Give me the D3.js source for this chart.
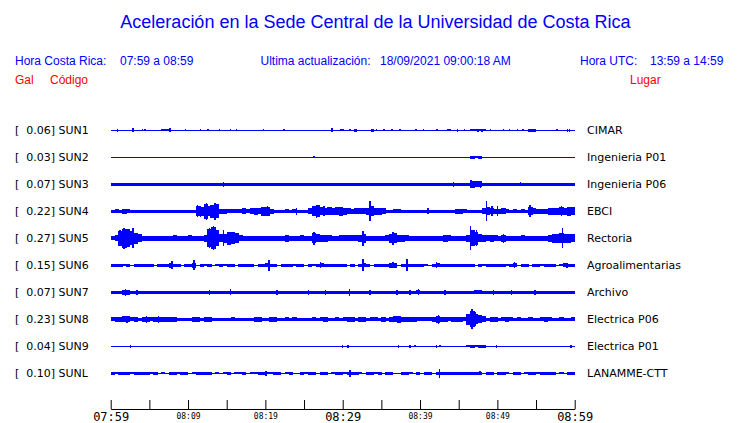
<!DOCTYPE html>
<html><head><meta charset="utf-8">
<script src="https://cdn.jsdelivr.net/npm/d3@7"></script>
<style>
html,body{margin:0;padding:0;background:#fff;}
svg{display:block;}
</style></head>
<body>
<svg id="chart" width="740" height="423"></svg>
<script>
// ---------------- DATA ----------------
const titleText = "Aceleración en la Sede Central de la Universidad de Costa Rica";
const localRange = "07:59 a 08:59";
const utcRange = "13:59 a 14:59";
const updated = "18/09/2021 09:00:18 AM";
const stations = ["SUN1","SUN2","SUN3","SUN4","SUN5","SUN6","SUN7","SUN8","SUN9","SUNL"];
const places = ["CIMAR","Ingenieria P01","Ingenieria P06","EBCI","Rectoria","Agroalimentarias","Archivo","Electrica P06","Electrica P01","LANAMME-CTT"];
const peakGal = ["0.06","0.03","0.07","0.22","0.27","0.15","0.07","0.23","0.04","0.10"];
const tickMinutes = [0,5,10,15,20,25,30,35,40,45,50,55,60];
const tickLabels = ["07:59","","08:09","","08:19","","08:29","","08:39","","08:49","","08:59"];
const majorLabels = ["07:59","08:29","08:59"];

// envelope half-amplitude per 30-second bin (120 bins = 60 minutes)
const envSUN1 = [
.65,.65,.65,.65,.65,.65,.65,.65,.65,.65, .65,.65,.65,1,1,.65,.65,.65,.65,.65,
.65,.65,.65,.65,.65,.65,.65,.65,.65,.65, .65,.65,.65,.65,.65,.65,.65,.65,.65,.65,
.65,.65,.65,.65,.65,.65,.65,.65,.65,.65, .65,.65,.65,.65,.65,.65,.65,.65,.65,.65,
.65,.65,.65,.65,.65,.65,.65,.65,.65,.65, .65,.65,.65,.65,.65,.65,.65,.65,.65,.65,
.65,.65,.65,.65,.65,.65,.65,1,.65,.65, .65,.65,.65,1,1,1,1,.65,.65,.65,
.65,.65,.65,.65,.65,.65,.65,.65,1.2,1.2, .65,.65,.65,.65,.65,.65,.65,.65,.65,.65];
const envSUN2 = [
.6,.6,.6,.6,.6,.6,.6,.6,.6,.6, .6,.6,.6,.6,.6,.6,.6,.6,.6,.6,
.6,.6,.6,.6,.6,.6,.6,.6,.6,.6, .6,.6,.6,.6,.6,.6,.6,.6,.6,.6,
.6,.6,.6,.6,.6,.6,.6,.6,.6,.6, .6,.6,.6,.6,.6,.6,.6,.6,.6,.6,
.6,.6,.6,.6,.6,.6,.6,.6,.6,.6, .6,.6,.6,.6,.6,.6,.6,.6,.6,.6,
.6,.6,.6,.6,.6,.6,.6,.6,.6,.6, .6,.6,.6,1.3,1.0,1.2,.6,.6,.6,.6,
.6,.6,.6,.6,.6,.6,.6,.6,.6,.6, .6,.6,.6,.6,.6,.6,.6,.6,.6,.6];
const envSUN3 = [
1.6,1.6,1.6,1.6,1.6,1.6,1.6,1.6,1.6,1.6, 1.6,1.6,1.6,1.6,1.6,1.6,1.6,1.6,1.6,1.6,
1.6,1.6,1.6,1.6,1.6,1.6,1.6,1.6,1.6,1.6, 1.6,1.6,1.6,1.6,1.6,1.6,1.6,1.6,1.6,1.6,
1.6,1.6,1.6,1.6,1.6,1.6,1.6,1.6,1.6,1.6, 1.6,1.6,1.6,1.6,1.6,1.6,1.6,1.6,1.6,1.6,
1.6,1.6,1.6,1.6,1.6,1.6,1.6,1.6,1.6,1.6, 1.6,1.6,1.6,1.6,1.6,1.6,1.6,1.6,1.6,1.6,
1.6,1.6,1.6,1.6,1.6,1.6,1.6,1.6,1.6,1.6, 1.6,1.6,1.6,3.3,3.0,3.0,1.6,1.6,1.6,1.6,
1.6,1.6,1.6,1.6,1.6,1.6,1.6,1.6,1.6,1.6, 1.6,1.6,1.6,1.6,1.6,1.6,1.6,1.6,1.6,1.6];
const envSUN4 = [
1.3,2.0,1.7,2.3,2.0,1.7,1.3,1.3,1.7,1.3, 1.8,1.8,1.3,1.7,1.3,1.3,1.6,1.3,1.5,1.3,
1.3,1.3,5,4.5,7.5,5,6.5,7,2.2,2.2, 2,2,2,2,3,2,3,3.5,3,4.5,
4.5,2.5,1.3,1.3,1.3,2,1.3,2,1.3,1.3, 1.5,3,5,6,4,3.5,4,3.5,4,4.5,
3.3,3,2.7,3,3,3,3.3,5,3.5,3.5, 3,1.7,1.5,2,2,1.5,1.5,1.5,1.5,1.5,
1.5,1.5,1.5,1.5,1.5,1.5,1.5,1.5,1.5,2.5, 2.5,2,1.5,1.5,1.5,1.5,3,4,3,2.7,
2.5,3,2,1.5,2,1.8,2,1.8,4,3, 2.5,2.5,2.5,3.5,3.5,3.5,4,3.5,4.5,4];
const envSUN5 = [
2,3,7.5,9.5,9,7,5.5,4,2.5,2.2, 2.5,2.7,2.5,2.3,2.5,2.7,3,2.5,2.3,2.3,
3,2.5,2.3,2.5,3.5,9,11,8,4,4.5, 6.5,6,5,3,2.5,2.5,2.7,2.5,2.5,2.3,
2.5,2.5,2.3,2.5,2.3,3.5,2.3,2.3,2.5,3, 2.3,2.3,5,4,3.5,3.5,3,2.7,2.7,3,
3,3,3,3,3.3,4.5,2.7,2.7,2.7,2.7, 2.7,3,4.5,5,3.5,3.3,3,2.5,2.5,2.5,
2.5,2.5,2.5,2.5,2.5,2.7,3.5,3,2.5,2.5, 2.5,2.5,3.5,8,6.5,4,3.5,3,3.3,3,
2.7,3.5,2.7,2.5,2.5,2.5,3,2.7,2.5,2.5, 2.5,2.5,2.7,3.5,4.5,4.5,5,4.5,4.5,4];
const envSUN6 = [
1.7,1.5,1.5,1.0,1.7,.7,1.7,1.7,1.7,1.5, 1.7,.7,1.7,1.7,1.7,2.5,1.7,1.7,.7,1.7,
1.7,2.5,.7,1.7,1.0,1.7,.7,1.0,1.7,1.0, 1.7,1.7,.7,1.7,1.7,1.7,1.7,.7,1.5,1.7,
2,1.7,1.7,.7,1.7,1.7,1.7,1.0,1.7,1.7, .7,1.7,1.0,1.7,2,1.5,1.7,1.7,1.7,1.7,
1.7,.7,1.7,.7,1.7,2.0,1.7,.7,1.7,1.7, 1.7,1.5,2.2,2.5,.7,1.7,1.5,1.7,1.7,1.7,
1.7,1.0,.7,1.7,2.0,1.7,1.7,1.5,1.7,1.7, 1.7,1.7,1.7,1.5,.7,1.7,1.0,1.7,1.7,1.7,
1.7,1.7,1.0,1.7,2.0,.7,1.7,1.7,.7,1.7, 1.7,1.0,1.7,1.7,1.7,.7,1.0,2.0,1.7,1.7];
const envSUN7 = [
1.3,1.3,1.3,2.5,2.2,1.3,1.3,1.5,1.3,1.3, 1.3,1.3,1.3,1.3,1.3,1.3,1.3,1.3,1.3,1.3,
1.3,1.3,1.3,1.3,1.3,1.3,1.3,1.3,1.3,1.3, 1.3,1.3,1.3,1.3,1.3,1.3,1.3,1.3,1.3,1.3,
1.3,1.3,1.3,1.3,1.3,1.3,1.3,1.3,1.3,1.3, 1.3,1.7,1.7,1.3,1.3,1.6,1.6,1.6,1.6,1.3,
1.3,1.3,1.3,1.3,1.3,1.3,1.3,1.3,1.3,1.3, 1.3,1.3,1.3,1.3,1.3,1.3,1.3,1.3,1.8,2.0,
1.3,1.3,1.3,1.3,1.3,1.3,1.3,1.3,1.3,1.3, 1.3,1.3,1.3,1.3,2.0,2.0,1.3,1.3,1.3,1.3,
1.3,1.3,1.3,1.3,1.3,1.3,1.6,1.6,1.6,1.3, 1.3,1.3,1.3,1.3,1.3,1.3,1.3,1.3,1.3,1.3];
const envSUN8 = [
2.0,2.7,2.7,3,3,2,2.2,1.7,2.2,2.7, 2.0,2.5,2.5,2.2,2.2,2.5,2.5,1.7,1.7,1.7,
1.7,2.5,2.5,1.7,2.5,2.5,1.7,1.7,1.7,1.7, 1.7,2.0,1.7,1.7,1.7,1.7,1.7,2.7,2.7,1.7,
1.7,2.2,2.2,1.7,1.7,2.0,1.7,2.0,1.7,1.7, 1.7,1.7,2.0,1.7,2.0,2.2,1.7,1.7,2.0,1.7,
2.0,2.3,2.3,1.7,2.2,2.3,1.7,2.0,2.0,1.7, 2.3,1.7,2.5,3,3.3,2.7,2.3,2.7,2.5,2.0,
2.0,2.0,2.0,2.2,3.5,2.7,2.2,2.0,2.3,2.7, 2.3,2.0,5.5,8,5,4,3,1.7,2.2,2.2,
1.7,2.0,2.2,2.0,1.7,2.0,1.7,1.7,2.0,1.7, 1.7,2.0,2.2,2.0,1.7,1.7,2.0,1.7,1.7,2.0];
const envSUN9 = [
.7,.7,.7,.7,.7,.7,.7,.7,.7,.7, .7,.7,.7,.7,.7,.7,.7,.7,.7,.7,
.7,.7,.7,.7,.7,.7,.7,.7,.7,.7, .7,.7,.7,.7,.7,.7,.7,.7,.7,.7,
.7,.7,.7,.7,.7,.7,.7,.7,.7,.7, .7,.7,.7,.7,.7,.7,.7,.7,.7,.7,
.7,.7,.7,.7,.7,.7,.7,.7,.7,.7, .7,.7,.7,.7,.7,.7,.7,.7,.7,.7,
.7,.7,.7,.7,.7,.7,.7,.7,.7,.7, .7,.7,1.0,1.3,1.0,1.3,1.2,.7,.7,.7,
.7,.7,.7,.7,.7,.7,.7,.7,.7,.7, .7,.7,.7,.7,.7,.7,.7,.7,.7,.7];
const envSUNL = [
1.2,1.0,1.3,1.2,1.3,1.0,1.3,1.5,1.7,1.3, 1.0,1.3,.8,1.0,.8,1.3,1.3,1.0,1.5,1.5,
.8,1.0,1.3,1.3,1.3,1.3,.8,1.0,.8,1.0, 1.3,.8,1.0,1.0,1.7,.8,1.0,1.0,1.7,1.7,
1.0,1.0,1.3,1.3,.8,1.0,1.3,.8,.8,1.3, 1.0,1.3,1.3,.8,1.2,1.3,.8,1.0,1.3,1.3,
1.0,1.5,1.7,1.3,1.0,.8,1.3,1.3,1.0,1.3, .8,1.3,1.3,.8,.8,1.3,1.2,1.0,.8,1.2,
.8,1.3,1.3,.8,1.3,1.7,1.3,1.3,1.3,1.3, 1.3,1.3,1.3,1.3,1.3,1.5,.8,1.3,1.3,.8,
1.3,1.3,1.0,.8,1.3,1.3,.8,1.0,1.3,1.3, 1.0,1.3,1.3,1.3,1.3,.8,1.0,.8,1.3,1.3];

// isolated spikes: [minute after 07:59, half-amplitude]
const spkSUN1 = [[0.9,1.7],[2.9,2],[4.1,1],[4.45,1],[7.7,2],[9.7,1],[11.6,1],[12.6,1],[14.05,.9],[15.5,.9],[16.25,1],[19.75,.9],[22.4,1],[28.6,2],[29.8,1],[30.05,1],[30.95,1],[31.6,1.7],[31.75,1.7],[33.7,1.7],[33.9,1.7],[34.4,1],[35.35,1],[36.35,1],[37.4,.9],[39.45,1],[40.45,.9],[42.2,1],[44.85,1.7],[45.75,1],[47.5,1.7],[48.0,1.7],[49.1,1],[50.8,.9],[51.55,.9],[52.6,1],[53.3,.9],[57.7,.9],[59.05,1.3],[59.3,1.3]];
const spkSUN2 = [[26.3,.9]];
const spkSUN3 = [[14.6,2.2],[44.3,2.2],[46.6,4],[47.8,3.7],[53,2]];
const spkSUN4 = [[11.2,6],[11.6,5.5],[12.4,8.5],[12.9,6.5],[13.5,8.3],[19.5,4.5],[20.3,5],[24,3.5],[26.6,6.7],[27.6,5],[33.5,10],[41.0,3],[48.6,10],[49.3,5],[50.0,5],[54.2,6],[58.3,5]];
const spkSUN5 = [[1.2,8],[1.7,10.5],[2.9,10],[12.8,10],[13.3,12],[14.6,8],[26.3,6.7],[32.6,7.5],[36.5,6.5],[46.55,12],[47.3,8],[50.8,4.5],[58.45,10]];
const spkSUN6 = [[7.9,4],[10.8,5],[20.5,5.5],[27.1,3],[32.6,6],[36.5,3],[38.3,6],[42.1,3],[52.2,3],[59,2.5]];
const spkSUN7 = [[1.9,3.5],[3.4,2.5],[12.75,2.5],[15.5,3],[21.5,2.5],[25.55,2.5],[27.8,2.5],[30.85,3.3],[33.5,2.2],[37,2.2],[38.7,2.5],[39.8,3],[43.2,2.2],[49.5,2.3],[51.85,2.3],[54.85,2.2]];
const spkSUN8 = [[2.1,3.7],[4.65,3.3],[6.15,3.3],[37.2,3.7],[42.4,4.3],[46.7,10],[47.2,7]];
const spkSUN9 = [[2.55,1.5],[29.95,1.2],[30.7,1.3],[37.2,1.3],[38.7,1.3],[39.35,1.1],[42.15,1.3],[42.6,1.1],[49.9,1.3],[59.5,1.3]];
const spkSUNL = [[20.1,2.5],[30.95,3.3],[42.5,4.5],[47.75,2]];

// ---------------- CHART ----------------
const envelopes = [envSUN1,envSUN2,envSUN3,envSUN4,envSUN5,envSUN6,envSUN7,envSUN8,envSUN9,envSUNL];
const spikes = [spkSUN1,spkSUN2,spkSUN3,spkSUN4,spkSUN5,spkSUN6,spkSUN7,spkSUN8,spkSUN9,spkSUNL];

const svg = d3.select("#chart");
const blue = "#0000ff", red = "#ff0000";
const sans = "'Liberation Sans', Arial, sans-serif";
const dv = "'DejaVu Sans', sans-serif";
const mono = "'DejaVu Sans Mono', monospace";

const x = d3.scaleLinear().domain([0, 60]).range([110.7, 574.7]);
const row = d3.scalePoint().domain(stations).range([130.3, 373.3]);
const amp = d3.scaleLinear().domain([0, 1]).range([0, 1]);

// header
svg.append("text").attr("x", 375.5).attr("y", 28).attr("text-anchor", "middle")
  .attr("font-family", sans).attr("font-size", 18).attr("fill", blue).text(titleText);
const hdr = [
  [15, "Hora Costa Rica:", blue], [120, localRange, blue],
  [260.5, "Ultima actualización:", blue], [380, updated, blue],
  [580, "Hora UTC:", blue], [650, utcRange, blue]
];
hdr.forEach(d => svg.append("text").attr("x", d[0]).attr("y", 65)
  .attr("font-family", sans).attr("font-size", 12).attr("fill", d[2]).text(d[1]));
[[15, "Gal"], [50, "Código"], [630, "Lugar"]].forEach(d =>
  svg.append("text").attr("x", d[0]).attr("y", 84)
   .attr("font-family", sans).attr("font-size", 12).attr("fill", red).text(d[1]));

// rows
const rows = svg.append("g").selectAll("g").data(stations).join("g");
rows.append("text").attr("x", 15).attr("y", s => row(s) + 4)
  .attr("font-family", dv).attr("font-size", 11).attr("fill", "#000").text("[");
rows.append("text").attr("x", 55).attr("y", s => row(s) + 4).attr("text-anchor", "end")
  .attr("font-family", dv).attr("font-size", 11).attr("fill", "#000").text((s,i) => peakGal[i] + "]");
rows.append("text").attr("x", 58.5).attr("y", s => row(s) + 4)
  .attr("font-family", dv).attr("font-size", 11).attr("fill", "#000").text(s => s);
rows.append("text").attr("x", 587).attr("y", s => row(s) + 4)
  .attr("font-family", dv).attr("font-size", 11).attr("fill", "#000").text((s,i) => places[i]);

// waveforms
const binMin = 0.5;
rows.each(function(s, i) {
  const g = d3.select(this).append("g").attr("fill", blue).attr("shape-rendering", "crispEdges");
  const cy = row(s);
  g.selectAll("rect.env").data(envelopes[i]).join("rect").attr("class", "env")
    .attr("x", (a, k) => x(k * binMin))
    .attr("width", (a, k) => x((k + 1) * binMin) - x(k * binMin) + 0.4)
    .attr("y", a => cy - amp(a))
    .attr("height", a => 2 * amp(a));
  g.selectAll("rect.spk").data(spikes[i]).join("rect").attr("class", "spk")
    .attr("x", d => x(d[0]) - 0.75)
    .attr("width", 1.5)
    .attr("y", d => cy - amp(d[1]))
    .attr("height", d => 2 * amp(d[1]));
});

// time axis
const axis = d3.axisBottom(x).tickValues(tickMinutes).tickSizeInner(-9).tickSizeOuter(0)
  .tickPadding(12).tickFormat((m, i) => tickLabels[i]);
const ag = svg.append("g").attr("transform", "translate(0,409)").call(axis);
ag.select(".domain").attr("stroke", "#000");
ag.selectAll(".tick line").attr("stroke", "#000");
ag.selectAll(".tick text")
  .attr("font-family", mono)
  .attr("fill", "#000")
  .attr("font-size", (m, i) => majorLabels.includes(tickLabels[i]) ? 12 : 8)
  .attr("dy", null)
  .attr("y", (m, i) => majorLabels.includes(tickLabels[i]) ? 12 : 9.5);
</script>
</body></html>
